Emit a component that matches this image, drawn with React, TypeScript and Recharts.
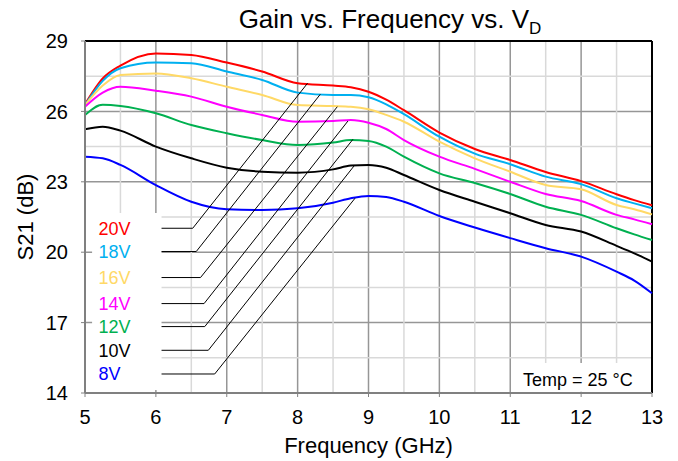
import {
  LineChart,
  Line,
  XAxis,
  YAxis,
  CartesianGrid,
  ReferenceLine,
  ReferenceArea,
  ReferenceDot,
} from "recharts"

const freq = [5, 5.25, 5.5, 6, 6.5, 7, 7.5, 8, 8.5, 8.75, 9, 9.25, 9.5, 10, 10.5, 11, 11.5, 12, 12.5, 12.75, 13]

const v20 = [26.3, 27.4, 27.95, 28.47, 28.4, 28.08, 27.7, 27.2, 27.1, 27.03, 26.84, 26.5, 26.05, 25.1, 24.4, 23.93, 23.42, 23.03, 22.47, 22.22, 22.0]
const v18 = [26.27, 27.3, 27.84, 28.08, 28.05, 27.7, 27.34, 26.8, 26.7, 26.7, 26.6, 26.3, 25.88, 24.92, 24.2, 23.75, 23.22, 22.9, 22.3, 22.08, 21.87]
const v16 = [26.27, 27.1, 27.55, 27.62, 27.41, 27.05, 26.7, 26.27, 26.23, 26.2, 26.09, 25.85, 25.56, 24.71, 24.0, 23.43, 22.86, 22.68, 22.01, 21.83, 21.61]
const v14 = [26.2, 26.8, 27.05, 26.88, 26.63, 26.2, 25.85, 25.56, 25.59, 25.63, 25.52, 25.25, 24.78, 24.07, 23.55, 23.0, 22.48, 22.18, 21.59, 21.4, 21.19]
const v12 = [25.85, 26.28, 26.23, 25.92, 25.42, 25.07, 24.78, 24.57, 24.67, 24.78, 24.74, 24.5, 24.07, 23.36, 22.95, 22.48, 21.94, 21.59, 21.02, 20.76, 20.52]
const v10 = [25.24, 25.35, 25.18, 24.5, 24.0, 23.6, 23.43, 23.39, 23.53, 23.69, 23.72, 23.6, 23.29, 22.65, 22.15, 21.66, 21.16, 20.88, 20.27, 19.95, 19.6]
const v8 = [24.07, 24.0, 23.72, 22.86, 22.15, 21.83, 21.8, 21.87, 22.11, 22.3, 22.4, 22.35, 22.15, 21.54, 21.05, 20.6, 20.17, 19.81, 19.17, 18.79, 18.25]

const xTicks = [5, 6, 7, 8, 9, 10, 11, 12, 13]
const yTicks = [14, 17, 20, 23, 26, 29]

// minor grid, as segments that stop at the two white text boxes
const minorV = [
  { x: 5.5, from: 21.67, to: 29 },
  { x: 6.5, from: 14, to: 29 },
  { x: 7.5, from: 14, to: 29 },
  { x: 8.5, from: 14, to: 29 },
  { x: 9.5, from: 14, to: 29 },
  { x: 10.5, from: 14, to: 29 },
  { x: 11.5, from: 15.28, to: 29 },
  { x: 12.5, from: 15.28, to: 29 },
]
const minorH = [
  { y: 15.5, from: 6.08, to: 13 },
  { y: 18.5, from: 6.08, to: 13 },
  { y: 21.5, from: 6.08, to: 13 },
  { y: 24.5, from: 5, to: 13 },
  { y: 27.5, from: 5, to: 13 },
]

const series = [
  { key: "v20", name: "20V", color: "#ff0000", values: v20 },
  { key: "v18", name: "18V", color: "#00b0f0", values: v18 },
  { key: "v16", name: "16V", color: "#ffd966", values: v16 },
  { key: "v14", name: "14V", color: "#ff00ff", values: v14 },
  { key: "v12", name: "12V", color: "#00b050", values: v12 },
  { key: "v10", name: "10V", color: "#000000", values: v10 },
  { key: "v8", name: "8V", color: "#0000ff", values: v8 },
]

// callout leaders (GHz / dB): label row, elbow, tip on the curve
const labelY = [21.02, 20.03, 18.92, 17.81, 16.83, 15.82, 14.81]
const elbowX = [6.52, 6.57, 6.63, 6.68, 6.69, 6.74, 6.83]
const tipX = [8.14, 8.32, 8.56, 8.71, 8.78, 8.8, 8.81]
const tipY = [27.2, 26.73, 26.2, 25.59, 24.81, 23.69, 22.3]

const data = freq.map((f, i) => {
  const row: Record<string, number> = { f }
  series.forEach((s) => (row[s.key] = s.values[i]))
  return row
})

const font = "'Liberation Sans', Arial, sans-serif"

export default function App() {
  return (
    <div style={{ position: "absolute", left: 0, top: 0, width: 678, height: 461, background: "#fff", fontFamily: font }}>
      <div
        style={{
          position: "absolute",
          left: 102,
          top: 6,
          width: 576,
          textAlign: "center",
          fontSize: 26,
          lineHeight: "26px",
          color: "#000",
          zIndex: 1,
        }}
      >
        Gain vs. Frequency vs. V<sub style={{ fontSize: 17, verticalAlign: -6 }}>D</sub>
      </div>
      <LineChart
        width={678}
        height={461}
        data={data}
        margin={{ top: 41, right: 26, left: 0, bottom: 0 }}
        style={{ fontFamily: font }}
      >
        <CartesianGrid stroke="#969696" strokeWidth={1.5} />
        <XAxis
          dataKey="f"
          type="number"
          domain={[5, 13]}
          ticks={xTicks}
          height={68}
          tickSize={4}
          tickMargin={13}
          axisLine={{ stroke: "#808080", strokeWidth: 2 }}
          tickLine={{ stroke: "#808080" }}
          tick={{ fill: "#000", fontSize: 20 }}
          label={{ value: "Frequency (GHz)", position: "center", dy: 18, fill: "#000", fontSize: 22 }}
        />
        <YAxis
          type="number"
          domain={[14, 29]}
          ticks={yTicks}
          width={85}
          tickSize={4}
          tickMargin={13}
          axisLine={{ stroke: "#808080", strokeWidth: 2 }}
          tickLine={{ stroke: "#808080" }}
          tick={{ fill: "#000", fontSize: 20 }}
          label={{ value: "S21 (dB)", angle: -90, position: "center", dx: -17, fill: "#000", fontSize: 22 }}
        />

        {minorV.map((g) => (
          <ReferenceLine
            key={"mv" + g.x}
            segment={[
              { x: g.x, y: g.from },
              { x: g.x, y: g.to },
            ]}
            stroke="#d9d9d9"
            strokeWidth={1.5}
          />
        ))}
        {minorH.map((g) => (
          <ReferenceLine
            key={"mh" + g.y}
            segment={[
              { x: g.from, y: g.y },
              { x: g.to, y: g.y },
            ]}
            stroke="#d9d9d9"
            strokeWidth={1.5}
          />
        ))}

        <ReferenceLine y={29} stroke="#000" strokeWidth={2} />
        <ReferenceLine x={13} stroke="#000" strokeWidth={2} />

        <ReferenceArea x1={5.1} x2={6.08} y1={14.13} y2={21.67} fill="#fff" fillOpacity={1} stroke="none" />
        <ReferenceArea x1={11.1} x2={12.83} y1={14.05} y2={15.28} fill="#fff" fillOpacity={1} stroke="none" />

        {series.map((s) => (
          <Line
            key={s.key}
            dataKey={s.key}
            type="monotone"
            stroke={s.color}
            strokeWidth={2}
            dot={false}
            isAnimationActive={false}
          />
        ))}

        {series.map((s, i) => (
          <ReferenceLine
            key={"h" + s.key}
            segment={[
              { x: 6.08, y: labelY[i] },
              { x: elbowX[i], y: labelY[i] },
            ]}
            stroke="#000"
            strokeWidth={1}
          />
        ))}
        {series.map((s, i) => (
          <ReferenceLine
            key={"d" + s.key}
            segment={[
              { x: elbowX[i], y: labelY[i] },
              { x: tipX[i], y: tipY[i] },
            ]}
            stroke="#000"
            strokeWidth={1}
          />
        ))}
        {series.map((s, i) => (
          <ReferenceDot
            key={"t" + s.key}
            x={5.19}
            y={labelY[i]}
            r={0}
            stroke="none"
            label={{ value: s.name, position: "right", offset: 0, fill: s.color, fontSize: 18 }}
          />
        ))}
        <ReferenceDot
          x={11.18}
          y={14.56}
          r={0}
          stroke="none"
          label={{ value: "Temp = 25 °C", position: "right", offset: 0, fill: "#000", fontSize: 18 }}
        />
      </LineChart>
    </div>
  )
}
